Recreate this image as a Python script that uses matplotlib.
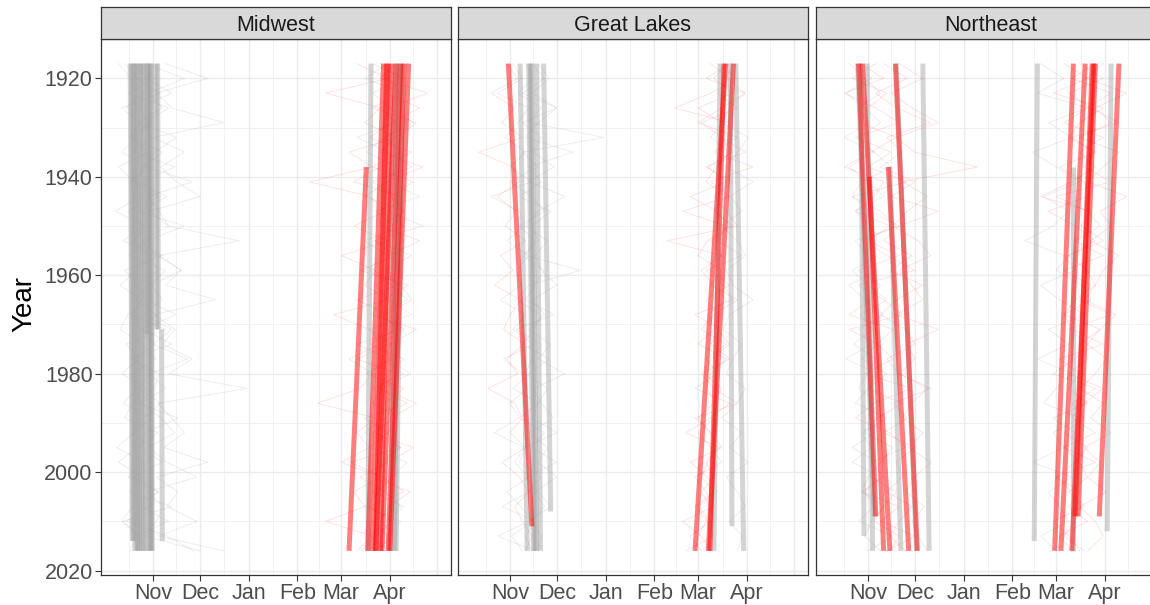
import matplotlib
matplotlib.use("Agg")
import matplotlib.pyplot as plt

plt.rcParams['font.family'] = ['Liberation Sans', 'DejaVu Sans']

# years of the thin yearly series (sampled every 3 years)
YEARS = list(range(1917, 2017, 3))

# x axis is days counted from 1 Nov
month_ticks = [0, 30, 61, 92, 120, 151]
month_labels = ['Nov', 'Dec', 'Jan', 'Feb', 'Mar', 'Apr']
major_grid = month_ticks + [181]
minor_grid = [-15, 15, 45.5, 76.5, 106, 135.5, 166]
year_ticks = [1920, 1940, 1960, 1980, 2000, 2020]
year_minor = [1930, 1950, 1970, 1990, 2010]

regions = ['Midwest', 'Great Lakes', 'Northeast']

# trend lines: (first year, last year, day at first year, day at last year)
mw_trend_gray = [
    (1917, 2014, -14.5, -13.0), (1917, 2014, -13.5, -12.5),
    (1917, 2016, -12.5, -11.5), (1917, 2016, -11.5, -10.0),
    (1917, 2016, -10.5, -9.5), (1917, 2016, -9.5, -8.5),
    (1917, 2016, -8.0, -7.0), (1917, 2016, -7.0, -6.0),
    (1917, 2016, -6.0, -4.5), (1917, 1972, -4.0, -3.5),
    (1917, 2016, -3.5, -2.5), (1917, 2016, -2.5, -1.5),
    (1917, 2016, -1.5, -1.0), (1917, 2016, -1.0, -0.5),
    (1917, 1971, 2.0, 2.5), (1917, 1971, 3.0, 3.5), (1971, 2014, 5.5, 6.0),
    (1917, 2016, 139, 137), (1917, 2016, 155, 152), (1917, 2016, 159, 155),
    (1917, 2016, 157, 154),
]
mw_trend_red = [
    (1938, 2016, 136, 125), (1917, 2016, 147, 137), (1917, 2016, 149, 142),
    (1917, 2016, 155, 142), (1917, 2016, 152, 145), (1917, 2016, 160, 150),
    (1917, 2016, 163, 151), (1917, 2016, 150, 140), (1917, 2016, 158, 146),
]
gl_trend_gray = [
    (1917, 2016, 6.5, 11), (1917, 2016, 12, 15), (1917, 2016, 13, 16),
    (1917, 2016, 14, 17), (1917, 2016, 17, 19.5), (1917, 2008, 21.5, 26),
    (1917, 2016, 134, 130), (1917, 2011, 140.5, 141.5), (1917, 2016, 144, 149),
]
gl_trend_red = [
    (1917, 2011, -1, 14), (1917, 2016, 137.5, 118),
    (1917, 2016, 142.5, 126.5), (1917, 2016, 136.5, 127.5),
]
ne_trend_gray = [
    (1917, 2016, -0.5, 3), (1917, 2013, -4.5, -2.5), (1917, 2009, -6.5, 4),
    (1917, 2016, 18, 31), (1917, 2016, 35, 39), (1938, 2016, 14, 21),
    (1917, 2014, 108, 106), (1938, 2016, 131, 131), (1917, 2012, 155, 152.5),
]
ne_trend_red = [
    (1917, 2009, -6, 5), (1917, 2016, -3.5, 14), (1940, 2016, 1, 10),
    (1917, 2016, 17.5, 31.5), (1938, 2016, 13, 26),
    (1917, 2016, 131, 119), (1917, 2016, 138.5, 123), (1917, 2009, 143, 132),
    (1917, 2009, 145, 134), (1917, 2016, 144, 130), (1917, 2009, 160, 147.5),
]

# thin yearly series (day of freeze / thaw)
mw_thin_gray = [
    [-18, -10, 5, -20, -8, -15, -3, -22, -12, 0, -16, -6, -19, 2, -11, -21, -7,
     -14, 8, -17, -9, -20, -4, -13, -18, 3, -10, -22, -6, -15, 12, -19, -8, -12],
    [-5, 20, -2, 6, -9, 15, 1, -4, 25, -3, 4, 10, -7, 3, 18, -1, 6, -6, 12, 0,
     22, -2, 8, -8, 5, 14, -3, 9, 28, -4, 7, 2, -5, 30],
    [-12, -4, 12, -9, -2, -14, 6, -6, -11, 9, -8, -1, -13, -3, 4, -10, -5, 15,
     -7, 1, -12, -2, -9, 5, -6, -14, 0, -4, -10, 3, -8, 10, -11, -3],
    [8, 35, 2, 12, 45, 0, 20, 5, 15, 30, -2, 10, 55, 4, 18, 8, 40, 1, 14, 6, 25,
     10, 60, 3, 12, 20, 7, 35, 2, 16, 9, 28, 4, 45],
    [-22, -14, -6, -17, 0, -11, -20, -2, -15, -8, -24, -5, -12, 6, -18, -9, -3,
     -16, -21, -7, 2, -14, -10, -19, -1, -12, -23, -6, -16, 4, -13, -20, -9, -15],
    [-9, 2, -16, 10, -5, -1, -12, 14, -7, 3, -10, 20, -4, -15, 8, -2, -11, 2,
     -6, 12, -14, 4, 1, -9, 16, -5, -8, 6, -13, 0, -3, -17, 9, 26],
    [150, 135, 160, 145, 155, 130, 150, 165, 140, 155, 145, 160, 135, 150, 158,
     142, 150, 165, 138, 152, 146, 160, 140, 155, 148, 135, 158, 145, 150, 140,
     160, 148, 138, 150],
    [145, 158, 140, 152, 166, 148, 136, 156, 150, 170, 142, 154, 160, 146, 138,
     152, 162, 144, 158, 130, 150, 164, 146, 140, 156, 150, 138, 162, 152, 144,
     135, 158, 148, 156],
]
mw_thin_red = [
    [140, 160, 148, 170, 152, 138, 165, 145, 128, 158, 150, 172, 141, 155, 132,
     163, 147, 139, 168, 151, 130, 156, 144, 162, 135, 149, 157, 126, 146, 160,
     138, 152, 142, 133],
    [155, 145, 175, 150, 162, 148, 158, 140, 166, 152, 160, 145, 170, 150, 140,
     158, 165, 148, 155, 138, 160, 150, 145, 168, 152, 142, 158, 148, 140, 164,
     150, 145, 155, 140],
    [130, 150, 110, 145, 135, 155, 125, 140, 100, 138, 148, 128, 150, 120, 142,
     135, 150, 115, 138, 145, 125, 140, 132, 105, 142, 130, 138, 120, 145, 128,
     135, 110, 140, 130],
    [162, 150, 158, 140, 168, 155, 145, 172, 150, 135, 160, 152, 142, 165, 148,
     156, 130, 150, 160, 145, 152, 136, 160, 148, 155, 140, 166, 150, 132, 148,
     158, 140, 150, 145],
]
gl_thin_gray = [
    [10, 15, 5, 20, 12, 60, 8, 18, 0, 14, 22, 6, 16, 10, 45, 12, 4, 20, 15, 8,
     25, 12, 2, 18, 14, 30, 10, 6, 20, 12, -5, 16, 10, 14],
    [18, 25, 14, 30, 8, 20, 15, 28, 12, 35, 18, 10, 24, 16, 20, 30, 14, 22, 12,
     26, 18, 35, 15, 20, 28, 12, 24, 18, 30, 16, 22, 14, 20, 18],
    [2, 8, -8, 12, 5, -3, 10, 0, 14, -12, 6, 9, -2, 12, 4, 7, -6, 10, 2, 15, -4,
     8, 11, 0, 6, -10, 9, 3, 12, -2, 7, 14, 1, 8],
    [14, 22, 8, 30, 18, 10, 40, 12, 20, 6, 26, 14, 18, 8, 22, 16, 10, 28, 4,
     20, 14, 10, 24, 18, 6, 22, 14, 30, 10, 18, 26, 12, -8, 16],
    [142, 138, 150, 140, 135, 152, 145, 138, 155, 140, 148, 135, 145, 150, 138,
     142, 155, 140, 136, 148, 142, 138, 150, 145, 135, 148, 140, 152, 138, 145,
     150, 140, 148, 145],
]
gl_thin_red = [
    [-2, 5, -12, 3, -5, 8, -20, 2, 6, -8, 4, -3, 10, -6, 2, -10, 7, 0, -4, 9,
     -2, 5, -14, 3, 8, 0, 10, -5, 6, 12, 3, 8, 14, 10],
    [140, 125, 150, 135, 120, 145, 130, 155, 128, 140, 110, 138, 132, 148, 125,
     136, 142, 118, 134, 128, 140, 122, 130, 145, 118, 128, 135, 115, 126, 132,
     120, 128, 115, 122],
    [132, 145, 128, 105, 140, 135, 150, 125, 142, 130, 138, 145, 100, 135, 128,
     140, 125, 133, 130, 120, 138, 128, 125, 132, 130, 120, 128, 135, 118, 125,
     130, 110, 122, 128],
    [138, 130, 142, 120, 135, 128, 140, 132, 125, 138, 130, 142, 128, 135, 122,
     130, 138, 126, 132, 140, 128, 124, 135, 130, 120, 128, 132, 125, 130, 122,
     128, 125, 120, 118],
    [128, 140, 132, 145, 122, 135, 142, 126, 138, 115, 132, 140, 126, 120, 135,
     128, 145, 130, 122, 138, 125, 132, 118, 140, 128, 112, 134, 126, 122, 130,
     118, 126, 130, 112],
]
ne_thin_gray = [
    [-8, 2, -14, -2, 8, -6, 4, -12, 0, 10, -8, 2, -4, 6, -10, 0, 12, -5, 3, -9,
     5, 0, -6, 8, -2, 4, -10, 6, 0, -4, 10, 2, -2, 8],
    [-12, -2, 8, -6, 0, -15, 4, 15, -4, -10, 2, 20, -8, 0, 6, -12, -2, 10, -6,
     2, -14, 6, 0, -8, 12, -4, 2, -10, 8, -2, 4, -6, 16, 0],
    [110, 125, 108, 140, 115, 130, 105, 120, 135, 112, 128, 118, 100, 125, 132,
     110, 122, 138, 115, 128, 108, 130, 120, 112, 135, 118, 125, 105, 130, 115,
     122, 128, 110, 120],
]
ne_thin_red = [
    [-5, 10, -15, 5, 20, -8, 15, 0, 25, -10, 8, 18, -3, 12, 30, -6, 10, 22, -12,
     6, 16, -2, 28, 4, -8, 14, 24, 2, 10, -4, 20, 8, 30, 12],
    [20, 35, 15, 28, 45, 18, 30, 70, 22, 38, 25, 16, 32, 40, 20, 28, 35, 18, 45,
     25, 30, 20, 38, 28, 22, 35, 26, 40, 30, 24, 36, 28, 32, 38],
    [5, -10, 12, 0, -5, 18, 2, -15, 10, 4, -8, 14, 0, 20, -6, 8, 2, -12, 16, 6,
     -4, 12, 0, 22, 6, -2, 16, 8, 2, 18, 10, 4, 20, 14],
    [10, 25, 5, 18, 40, 12, 22, 8, 30, 15, 45, 20, 10, 28, 14, 35, 18, 8, 24,
     30, 12, 20, 40, 16, 25, 10, 30, 18, 22, 12, 28, 20, 14, 24],
    [135, 150, 128, 142, 160, 130, 145, 138, 155, 120, 140, 148, 132, 150, 125,
     142, 135, 155, 128, 140, 132, 118, 145, 130, 138, 125, 140, 132, 120, 135,
     128, 140, 122, 130],
    [150, 140, 165, 145, 155, 135, 160, 150, 140, 165, 148, 155, 142, 160, 150,
     145, 138, 158, 148, 140, 152, 145, 135, 150, 142, 155, 138, 148, 140, 152,
     135, 145, 150, 140],
    [145, 130, 155, 140, 125, 150, 135, 145, 130, 110, 142, 136, 150, 128, 140,
     145, 132, 125, 148, 135, 140, 128, 150, 138, 130, 145, 125, 135, 140, 128,
     136, 132, 125, 138],
    [125, 140, 118, 150, 135, 128, 145, 122, 138, 140, 115, 132, 145, 128, 120,
     136, 142, 125, 130, 150, 122, 135, 128, 140, 118, 132, 125, 145, 120, 130,
     138, 118, 128, 135],
]

panel_data = [
    (mw_thin_gray, mw_thin_red, mw_trend_gray, mw_trend_red),
    (gl_thin_gray, gl_thin_red, gl_trend_gray, gl_trend_red),
    (ne_thin_gray, ne_thin_red, ne_trend_gray, ne_trend_red),
]

W, H = 1150, 605


def box(l, t, r, b):
    return [l / W, 1 - b / H, (r - l) / W, (b - t) / H]


fig = plt.figure(figsize=(W / 100, H / 100), dpi=100)
lefts = [101, 458, 816]

for i, (name, (thin_g, thin_r, tr_g, tr_r)) in enumerate(zip(regions, panel_data)):
    l = lefts[i]
    ax = fig.add_axes(box(l, 39, l + 350, 575))
    ax.set_xlim(-33.1, 190)
    ax.set_ylim(2020.9, 1912.0)

    for g in major_grid:
        ax.axvline(g, color='#EBEBEB', lw=1.0, zorder=0)
    for g in minor_grid:
        ax.axvline(g, color='#EFEFEF', lw=0.6, zorder=0)
    for g in year_ticks:
        ax.axhline(g, color='#EBEBEB', lw=1.0, zorder=0)
    for g in year_minor:
        ax.axhline(g, color='#EFEFEF', lw=0.6, zorder=0)

    for s in thin_g:
        ax.plot(s, YEARS[:len(s)], color='#808080', alpha=0.16, lw=0.6, zorder=1)
    for s in thin_r:
        ax.plot(s, YEARS[:len(s)], color='#FF0000', alpha=0.13, lw=0.6, zorder=1)

    for y0, y1, d0, d1 in tr_g:
        ax.plot([d0, d1], [y0, y1], color='#A0A0A0', alpha=0.45, lw=3.6,
                solid_capstyle='butt', zorder=2)
    for y0, y1, d0, d1 in tr_r:
        ax.plot([d0, d1], [y0, y1], color='#FF0000', alpha=0.5, lw=3.6,
                solid_capstyle='butt', zorder=3)

    ax.set_xticks(month_ticks, month_labels)
    ax.set_yticks(year_ticks)
    ax.tick_params(length=4, width=0.8, color='#333333', labelsize=15.5,
                   labelcolor='#4D4D4D', pad=2)
    if i > 0:
        ax.tick_params(axis='y', left=False, labelleft=False)
    for sp in ax.spines.values():
        sp.set_color('#333333')
        sp.set_linewidth(0.9)

    st = fig.add_axes(box(l, 7, l + 350, 39))
    st.set_facecolor('#D9D9D9')
    st.set_xticks([])
    st.set_yticks([])
    for sp in st.spines.values():
        sp.set_color('#333333')
        sp.set_linewidth(0.9)
    st.text(0.5, 0.42, name, transform=st.transAxes, ha='center', va='center',
            fontsize=15.5, color='#1A1A1A')

fig.text(24 / W, 1 - 304 / H, 'Year', rotation=90, fontsize=20,
         ha='center', va='center')

fig.savefig('out.png', dpi=100)
